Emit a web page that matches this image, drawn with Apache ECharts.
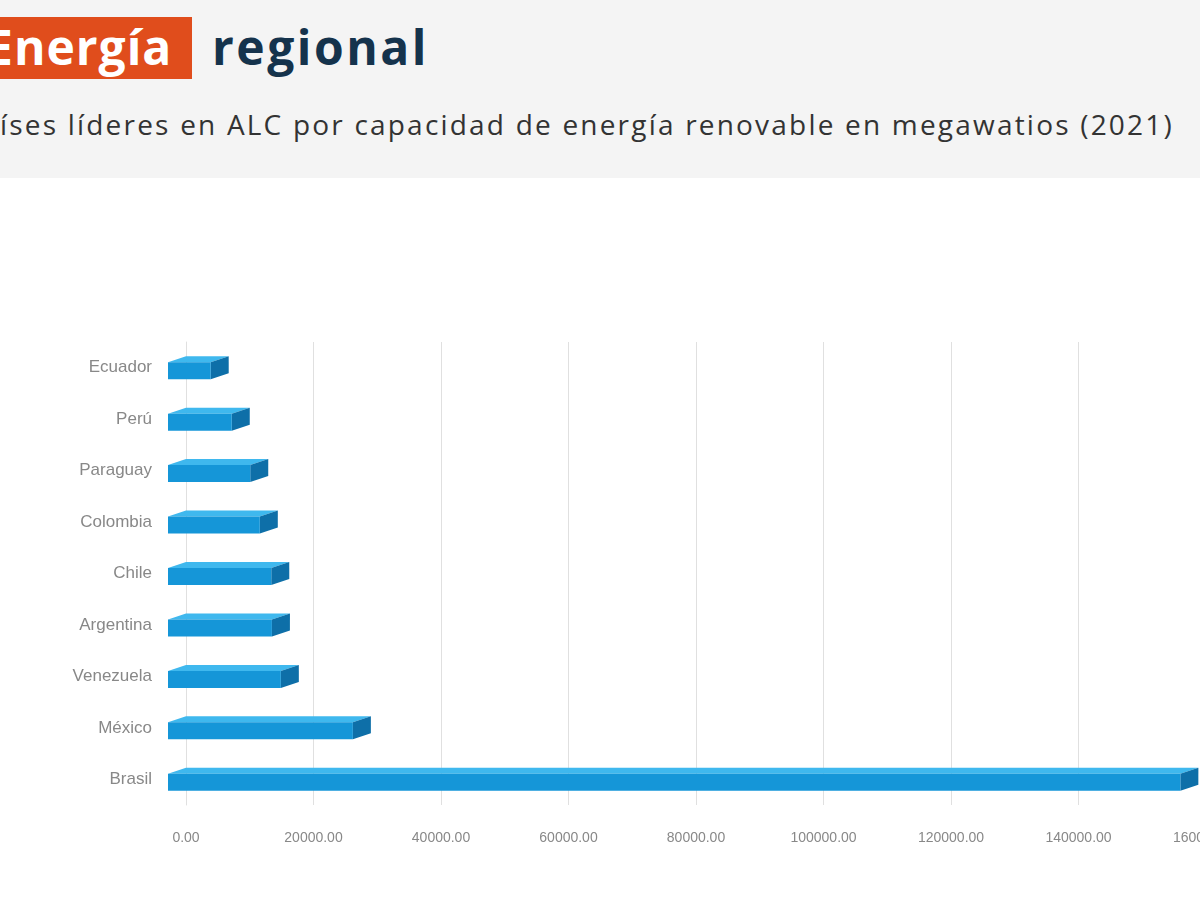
<!DOCTYPE html>
<html><head><meta charset="utf-8">
<script src="https://cdn.jsdelivr.net/npm/echarts@6/dist/echarts.min.js"></script>
<style>
body{margin:0;background:#fff;font-family:"Open Sans",sans-serif;}
#hdr{position:absolute;left:0;top:0;width:1200px;height:178px;background:#f4f4f4;}
#box{position:absolute;left:-14px;top:17px;width:206px;height:62px;background:#e04d1c;color:#fff;font:bold 48px "Open Sans",sans-serif;line-height:60px;letter-spacing:1px;}
#t2{position:absolute;left:212px;top:17px;color:#15334c;font:bold 48px "Open Sans",sans-serif;line-height:60px;letter-spacing:2.5px;}
#sub{position:absolute;left:0;top:105px;color:#333;font:28px "Open Sans",sans-serif;white-space:nowrap;letter-spacing:2.2px;}
#c{position:absolute;left:0;top:0;width:1200px;height:900px;}
</style></head><body>
<div id="hdr"></div>
<div id="box">Energía</div>
<div id="t2">regional</div>
<div id="sub">íses líderes en ALC por capacidad de energía renovable en megawatios (2021)</div>
<div id="c"></div>
<script>
const categories = ["Brasil","México","Venezuela","Argentina","Chile","Colombia","Paraguay","Perú","Ecuador"];
const values = [158800, 29000, 17700, 16300, 16200, 14400, 12900, 10000, 6700];
const chart = echarts.init(document.getElementById('c'));
const DX = 18, DY = 6, H = 17;
chart.setOption({
  grid:{left:186,width:1020,top:342,height:463,outerBoundsMode:'none',containLabel:false},
  xAxis:{type:'value',min:0,max:160000,interval:20000,
    axisLabel:{formatter:v=>v.toFixed(2),color:'#888',fontSize:14,margin:26},
    splitLine:{lineStyle:{color:'#e0e0e0'}},axisLine:{show:false},axisTick:{show:false}},
  yAxis:{type:'category',data:categories,axisLabel:{color:'#888',fontSize:17,margin:34},
    axisLine:{lineStyle:{color:'#e0e0e0'}},axisTick:{show:false}},
  series:[{type:'custom',data:values.map((v,i)=>[v,i]),
    renderItem:(params,api)=>{
      const p=api.coord([api.value(0),api.value(1)]);
      const p0=api.coord([0,api.value(1)]);
      const x0=p0[0]-DX, x1=p[0]-DX, y0=p[1]-H/2+3, y1=y0+H;
      return {type:'group',children:[
        {type:'polygon',shape:{points:[[x0,y0],[x1,y0],[x1+DX,y0-DY],[x0+DX,y0-DY]]},style:{fill:'#3fb8ee'}},
        {type:'polygon',shape:{points:[[x1,y0],[x1+DX,y0-DY],[x1+DX,y1-DY],[x1,y1]]},style:{fill:'#0e6fa8'}},
        {type:'rect',shape:{x:x0,y:y0,width:x1-x0,height:H},style:{fill:'#1596d8'}}
      ]};
    }}]
});
</script></body></html>
